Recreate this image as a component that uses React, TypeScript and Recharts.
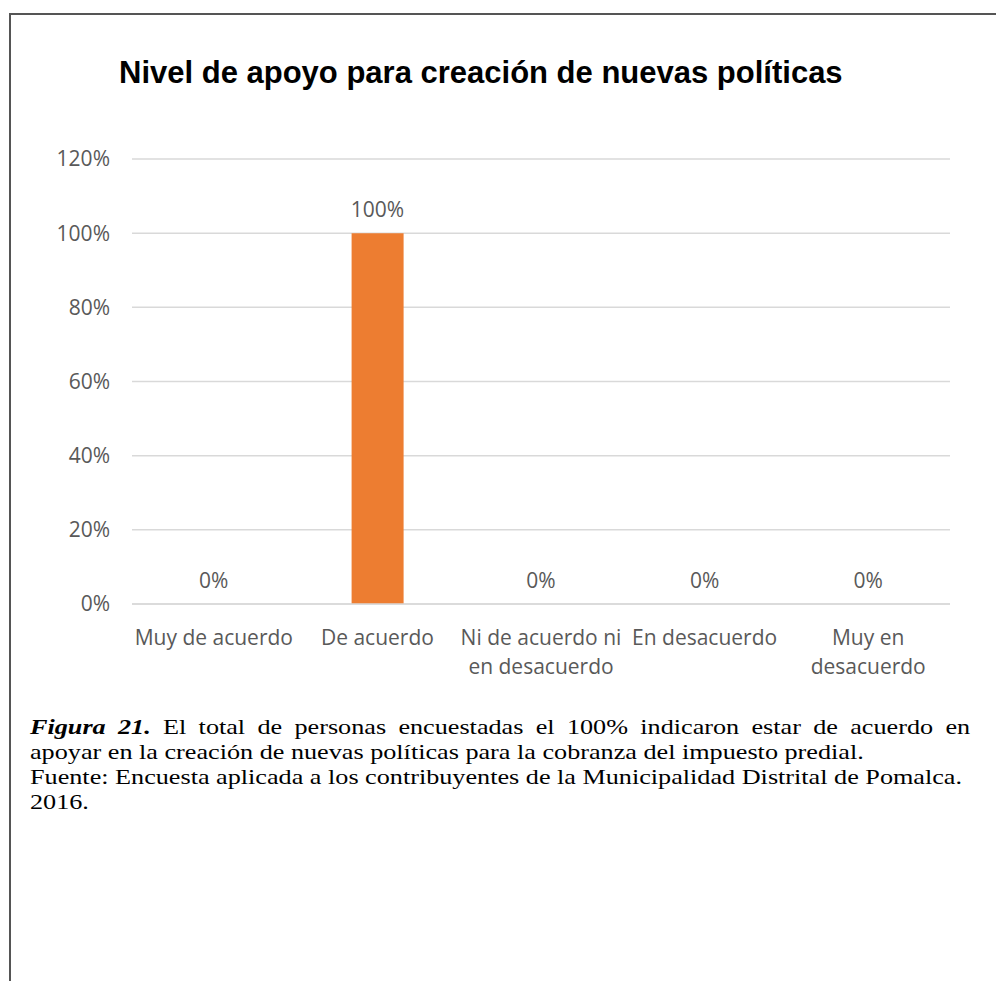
import { ComposedChart, Bar, Line, XAxis, YAxis, CartesianGrid, LabelList } from "recharts";

const categories = [
  "Muy de acuerdo",
  "De acuerdo",
  "Ni de acuerdo ni en desacuerdo",
  "En desacuerdo",
  "Muy en desacuerdo",
];
const shares = [0, 1, 0, 0, 0];
const yTicks = [0, 0.2, 0.4, 0.6, 0.8, 1.0, 1.2];

const data = categories.map((name, i) => ({ name, value: shares[i] }));

const pct = (v: number) => `${Math.round(v * 100)}%`;

const AXIS_FONT = "'Open Sans', sans-serif";
const TEXT_GREY = "#595959";

let measureCtx: CanvasRenderingContext2D | null = null;
function wrapWords(text: string, maxWidth: number, font: string): string[] {
  if (!measureCtx) measureCtx = document.createElement("canvas").getContext("2d");
  if (!measureCtx) return [text];
  measureCtx.font = font;
  const lines: string[] = [];
  let current = "";
  for (const word of text.split(" ")) {
    const next = current ? `${current} ${word}` : word;
    if (current && measureCtx.measureText(next).width > maxWidth) {
      lines.push(current);
      current = word;
    } else {
      current = next;
    }
  }
  if (current) lines.push(current);
  return lines;
}

function CategoryTick(props: any) {
  const { x, y, payload } = props;
  const lines = wrapWords(String(payload.value), 166, `21px ${AXIS_FONT}`);
  return (
    <text
      x={x}
      y={y + 41}
      textAnchor="middle"
      fontSize={21}
      fontFamily={AXIS_FONT}
      fill={TEXT_GREY}
    >
      {lines.map((line, i) => (
        <tspan key={i} x={x} dy={i === 0 ? 0 : 29}>
          {line}
        </tspan>
      ))}
    </text>
  );
}

export default function App() {
  return (
    <div
      style={{
        position: "absolute",
        left: 0,
        top: 0,
        width: 996,
        height: 981,
        background: "#fff",
        overflow: "hidden",
      }}
    >
      {/* frame */}
      <div style={{ position: "absolute", left: 9, top: 13, right: 0, height: 2, background: "#555" }} />
      <div style={{ position: "absolute", left: 9, top: 13, bottom: 0, width: 2, background: "#555" }} />

      <div
        style={{
          position: "absolute",
          left: 119,
          top: 54,
          fontFamily: "'Liberation Sans', Arial, sans-serif",
          fontWeight: "bold",
          fontSize: 31,
          lineHeight: "38px",
          color: "#000",
          whiteSpace: "nowrap",
        }}
      >
        Nivel de apoyo para creación de nuevas políticas
      </div>

      <div style={{ position: "absolute", left: 0, top: 0 }}>
        <ComposedChart
          width={996}
          height={700}
          data={data}
          margin={{ top: 159, right: 46, bottom: 6, left: 0 }}
        >
          <CartesianGrid vertical={false} stroke="#d9d9d9" strokeWidth={1.5} />
          <XAxis
            dataKey="name"
            height={90}
            axisLine={{ stroke: "#d9d9d9", strokeWidth: 1.5 }}
            tickLine={false}
            tickSize={0}
            tickMargin={0}
            interval={0}
            tick={<CategoryTick />}
          />
          <YAxis
            width={132}
            domain={[0, 1.2]}
            ticks={yTicks}
            tickFormatter={pct}
            axisLine={false}
            tickLine={false}
            tickSize={0}
            tickMargin={22}
            tick={{ fontSize: 21, fill: TEXT_GREY, fontFamily: AXIS_FONT }}
          />
          <Bar dataKey="value" fill="#ED7D31" barSize={52} isAnimationActive={false} />
          {/* invisible series so the 0% values get labels too */}
          <Line
            dataKey="value"
            stroke="none"
            dot={false}
            activeDot={false}
            legendType="none"
            isAnimationActive={false}
          >
            <LabelList
              dataKey="value"
              position="top"
              offset={16}
              formatter={(v: any) => pct(Number(v))}
              style={{ fontSize: 21, fill: TEXT_GREY, fontFamily: AXIS_FONT }}
            />
          </Line>
        </ComposedChart>
      </div>

      <div
        style={{
          position: "absolute",
          left: 30,
          top: 714,
          width: 790,
          transform: "scaleX(1.19)",
          transformOrigin: "0 0",
          fontFamily: "'Liberation Serif', 'Times New Roman', serif",
          fontSize: 22,
          lineHeight: "25px",
          color: "#000",
        }}
      >
        <div style={{ textAlign: "justify", textAlignLast: "justify", whiteSpace: "nowrap" }}>
          <b>
            <i>Figura 21.</i>
          </b>{" "}
          El total de personas encuestadas el 100% indicaron estar de acuerdo en
        </div>
        <div style={{ whiteSpace: "nowrap" }}>
          apoyar en la creación de nuevas políticas para la cobranza del impuesto predial.
        </div>
        <div style={{ whiteSpace: "nowrap" }}>
          Fuente: Encuesta aplicada a los contribuyentes de la Municipalidad Distrital de Pomalca.
        </div>
        <div>2016.</div>
      </div>
    </div>
  );
}
